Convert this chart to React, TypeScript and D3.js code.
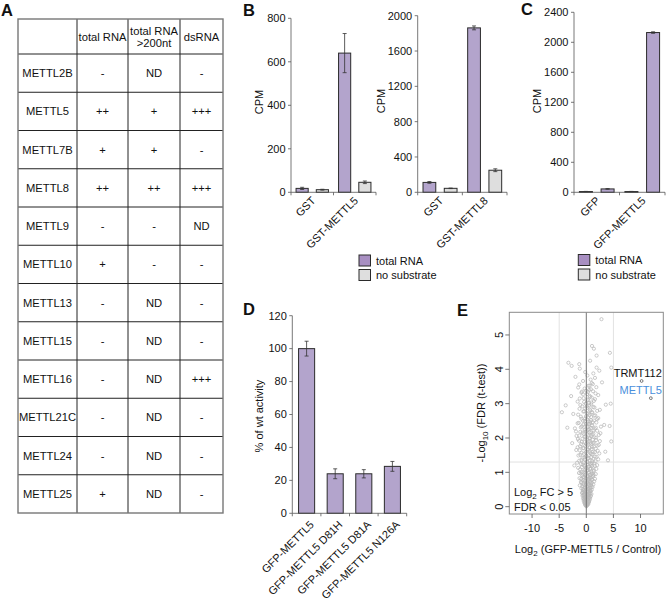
import React from 'react';
import * as d3 from 'd3';

const FONT = '"Liberation Sans", Arial, Helvetica, sans-serif';
const PURPLE = '#b3a4cc';
const PURPLE_LEGEND = '#a88fc2';
const GRAY = '#dedede';
const STROKE = '#2b2b2b';
const AXIS = '#555';

// ---------- Panel A: table ----------
const TABLE_COLUMNS = ['total RNA', 'total RNA\n>200nt', 'dsRNA'];
const TABLE_GENES = ['METTL2B', 'METTL5', 'METTL7B', 'METTL8', 'METTL9', 'METTL10', 'METTL13', 'METTL15', 'METTL16', 'METTL21C', 'METTL24', 'METTL25'];
const TABLE_TOTAL_RNA = ['-', '++', '+', '++', '-', '+', '-', '-', '-', '-', '-', '+'];
const TABLE_TOTAL_RNA_200 = ['ND', '+', '+', '++', '-', '-', 'ND', 'ND', 'ND', 'ND', 'ND', 'ND'];
const TABLE_DSRNA = ['-', '+++', '-', '+++', 'ND', '-', '-', '-', '+++', '-', '-', '-'];

// ---------- Panel B ----------
const SERIES_NAMES = ['total RNA', 'no substrate'];
const B1_CATEGORIES = ['GST', 'GST-METTL5'];
const B1_TOTAL = [18, 640];
const B1_TOTAL_ERR = [5, 90];
const B1_NOSUB = [12, 46];
const B1_NOSUB_ERR = [2, 6];
const B1_TICKS = [0, 200, 400, 600, 800];

const B2_CATEGORIES = ['GST', 'GST-METTL8'];
const B2_TOTAL = [112, 1862];
const B2_TOTAL_ERR = [10, 22];
const B2_NOSUB = [45, 250];
const B2_NOSUB_ERR = [3, 16];
const B2_TICKS = [0, 400, 800, 1200, 1600, 2000];

// ---------- Panel C ----------
const C_CATEGORIES = ['GFP', 'GFP-METTL5'];
const C_NOSUB = [10, 10];
const C_NOSUB_ERR = [2, 2];
const C_TOTAL = [45, 2130];
const C_TOTAL_ERR = [4, 10];
const C_TICKS = [0, 400, 800, 1200, 1600, 2000, 2400];

// ---------- Panel D ----------
const D_CATEGORIES = ['GFP-METTL5', 'GFP-METTL5 D81H', 'GFP-METTL5 D81A', 'GFP-METTL5 N126A'];
const D_VALUES = [100, 24, 24, 28.5];
const D_ERR = [4.5, 3, 2.5, 3];
const D_TICKS = [0, 20, 40, 60, 80, 100, 120];

// ---------- Panel E ----------
const E_X_TICKS = [-10, -5, 0, 5, 10];
const E_Y_TICKS = [0, 1, 2, 3, 4, 5];
const E_FC_LINES = [-5, 5];
const E_FDR_LINE = 1.3;
const E_POINTS: [number, number][] = [
  [0.00, 0.01], [0.05, 0.03], [-0.05, 0.04], [0.12, 0.06], [-0.10, 0.08], [0.20, 0.09], [-0.18, 0.11], [0.02, 0.12],
  [0.28, 0.13], [-0.25, 0.15], [0.10, 0.16], [-0.08, 0.18], [0.35, 0.19], [-0.32, 0.20], [0.18, 0.22], [0.00, 0.23],
  [-0.20, 0.25], [0.42, 0.26], [-0.38, 0.27], [0.26, 0.29], [0.08, 0.30], [-0.12, 0.31], [0.50, 0.33], [-0.45, 0.34],
  [0.33, 0.35], [-0.28, 0.37], [0.15, 0.38], [-0.02, 0.39], [0.58, 0.40], [-0.50, 0.41], [0.40, 0.43], [-0.35, 0.44],
  [0.22, 0.45], [-0.15, 0.46], [0.65, 0.47], [-0.58, 0.48], [0.48, 0.50], [0.05, 0.50], [0.30, 0.07], [-0.30, 0.10],
  [0.45, 0.16], [-0.42, 0.22], [0.60, 0.28], [-0.55, 0.33], [0.72, 0.38], [-0.65, 0.42], [0.80, 0.46],
  [-0.62, 0.52], [0.30, 0.53], [0.75, 0.55], [-0.30, 0.56], [0.12, 0.58], [-0.70, 0.60], [0.55, 0.61], [0.90, 0.63],
  [-0.45, 0.64], [-0.05, 0.66], [0.38, 0.67], [1.00, 0.69], [-0.85, 0.70], [0.20, 0.72], [0.70, 0.73], [-0.20, 0.75],
  [-0.60, 0.77], [1.10, 0.78], [0.45, 0.80], [-0.95, 0.81], [0.05, 0.83], [0.85, 0.84], [-0.40, 0.86], [1.25, 0.88],
  [0.28, 0.89], [-0.75, 0.91], [0.62, 0.92], [-0.10, 0.94], [1.05, 0.96], [-1.05, 0.97], [0.40, 0.99], [0.95, 0.57],
  [-0.15, 0.62], [0.60, 0.82], [1.35, 0.93], [-0.30, 0.97],
  [-0.55, 1.00], [0.95, 1.02], [0.15, 1.04], [1.40, 1.05], [-0.30, 1.07], [-1.15, 1.09], [0.70, 1.10], [0.00, 1.12],
  [1.20, 1.14], [-0.80, 1.15], [0.50, 1.17], [1.55, 1.19], [-0.15, 1.20], [0.30, 1.22], [-1.00, 1.24], [0.85, 1.25],
  [1.05, 1.27], [-0.50, 1.29], [0.10, 1.30], [1.70, 1.32], [-1.30, 1.34], [0.60, 1.35], [-0.25, 1.37], [1.30, 1.39],
  [0.25, 1.40], [-0.70, 1.42], [0.90, 1.44], [1.90, 1.45], [-0.05, 1.47], [-1.45, 1.49], [4.00, 1.35], [-2.20, 1.20],
  [0.45, 1.50], [1.15, 1.52], [-0.40, 1.54], [0.75, 1.56], [-0.90, 1.57], [1.60, 1.59], [0.05, 1.61], [2.10, 1.63],
  [-1.20, 1.64], [0.35, 1.66], [1.00, 1.68], [-0.60, 1.70], [0.60, 1.72], [-1.60, 1.73], [1.40, 1.75], [-0.20, 1.77],
  [0.20, 1.79], [2.30, 1.80], [-0.95, 1.82], [0.90, 1.84], [1.25, 1.86], [-0.35, 1.88], [0.50, 1.90], [-1.35, 1.92],
  [1.80, 1.94], [0.10, 1.96], [-0.70, 1.98], [3.50, 1.60], [4.60, 1.90], [-2.60, 1.85],
  [0.70, 2.00], [1.50, 2.02], [-0.15, 2.04], [-1.80, 2.06], [0.35, 2.08], [1.10, 2.10], [-0.50, 2.12], [2.60, 2.14],
  [0.90, 2.16], [-1.10, 2.18], [0.00, 2.20], [1.35, 2.22], [-0.30, 2.24], [0.55, 2.26], [-2.10, 2.28], [1.75, 2.30],
  [0.25, 2.32], [-0.80, 2.34], [1.00, 2.36], [3.30, 2.38], [-0.05, 2.40], [0.65, 2.42], [-1.40, 2.44], [1.20, 2.46],
  [0.40, 2.48], [4.30, 2.35], [-3.50, 2.30],
  [-0.60, 2.50], [0.85, 2.52], [2.00, 2.55], [-0.20, 2.57], [0.30, 2.60], [-1.00, 2.62], [1.45, 2.65], [0.60, 2.67],
  [-2.40, 2.70], [0.10, 2.72], [1.10, 2.75], [-0.40, 2.78], [0.75, 2.80], [2.50, 2.82], [-1.25, 2.85], [0.20, 2.88],
  [1.30, 2.90], [-0.75, 2.92], [0.50, 2.95], [3.60, 2.97], [-4.50, 2.75], [-3.80, 2.95], [4.50, 3.00],
  [-0.10, 3.00], [0.95, 3.03], [-1.60, 3.06], [0.35, 3.10], [1.60, 3.13], [-0.50, 3.16], [0.70, 3.20], [-2.80, 3.22],
  [2.20, 3.25], [0.15, 3.28], [-0.90, 3.32], [1.25, 3.36], [0.55, 3.40], [-0.30, 3.44], [1.85, 3.48], [-0.80, 3.35],
  [0.40, 3.52], [-1.30, 3.56], [1.00, 3.60], [2.90, 3.62], [-0.60, 3.66], [0.80, 3.70], [1.60, 3.75], [-2.00, 3.78],
  [0.20, 3.82], [1.30, 3.88], [-0.20, 3.92], [2.40, 3.96],
  [-1.20, 4.02], [1.90, 4.05], [4.60, 4.05], [-2.70, 4.10], [-1.30, 4.15], [-3.30, 4.19], [0.70, 4.25], [1.90, 4.40],
  [4.35, 4.48], [1.40, 4.60], [1.05, 4.68], [2.80, 5.46],
];
const E_POINTS_CORE: [number, number][] = [
  [0.15, 0.04], [-0.22, 0.05], [0.38, 0.08], [-0.35, 0.12], [0.52, 0.14], [-0.48, 0.17], [0.62, 0.20], [0.05, 0.21],
  [-0.60, 0.24], [0.70, 0.25], [0.30, 0.27], [-0.10, 0.28], [0.85, 0.31], [-0.70, 0.32], [0.18, 0.34], [-0.40, 0.36],
  [0.95, 0.37], [0.55, 0.39], [-0.80, 0.40], [-0.20, 0.42], [0.10, 0.44], [0.75, 0.45], [-0.50, 0.47], [1.00, 0.49],
  [0.35, 0.51], [-0.90, 0.53], [0.62, 0.54], [-0.10, 0.55], [1.15, 0.57], [0.20, 0.59],
  [-1.20, 0.62], [0.45, 0.64], [1.30, 0.65], [-0.55, 0.67], [0.80, 0.68], [0.10, 0.70], [-1.00, 0.72], [1.45, 0.74],
  [0.35, 0.76], [-0.35, 0.78], [0.95, 0.79], [1.60, 0.81], [-1.25, 0.83], [0.55, 0.85], [-0.60, 0.87], [0.15, 0.88],
  [1.20, 0.90], [-0.20, 0.92], [0.80, 0.94], [1.75, 0.95], [-1.35, 0.98], [0.50, 1.00], [-0.85, 1.01], [1.30, 1.03],
  [0.25, 1.06], [-0.10, 1.08], [1.85, 1.10], [0.80, 1.12], [-1.50, 1.13], [0.40, 1.16], [1.00, 1.18], [-0.40, 1.19],
  [2.00, 1.21], [-0.65, 1.23], [0.65, 1.24], [1.45, 1.26], [-1.70, 1.28], [0.20, 1.31], [1.10, 1.33], [-0.90, 1.36],
  [2.20, 1.38], [0.45, 1.41], [-0.35, 1.43], [1.60, 1.46], [0.05, 1.48], [-1.10, 1.51], [0.95, 1.53], [2.40, 1.55],
  [-0.15, 1.58], [1.30, 1.60], [0.60, 1.62], [-1.85, 1.65], [0.25, 1.67], [1.75, 1.69], [-0.50, 1.71], [1.05, 1.74],
  [-1.15, 1.76], [2.05, 1.78], [0.40, 1.81], [-0.05, 1.83], [1.50, 1.85], [0.75, 1.87], [-0.80, 1.89], [2.50, 1.91],
  [0.15, 1.93], [1.20, 1.95], [-1.55, 1.97], [0.55, 1.99],
  [1.80, 2.01], [-0.35, 2.03], [0.90, 2.05], [-1.30, 2.07], [2.30, 2.09], [0.15, 2.11], [1.30, 2.13], [-0.70, 2.15],
  [0.60, 2.17], [-1.90, 2.19], [2.00, 2.21], [0.30, 2.23], [-0.15, 2.25], [1.55, 2.27], [0.85, 2.29], [-1.00, 2.31],
  [2.70, 2.33], [0.05, 2.35], [1.10, 2.37], [-0.55, 2.39], [0.45, 2.41], [-1.60, 2.43], [1.85, 2.45], [0.70, 2.47],
  [-0.25, 2.49], [1.40, 2.51], [0.15, 2.54], [-0.90, 2.56], [2.20, 2.58], [0.90, 2.61], [-0.05, 2.63], [1.65, 2.66],
  [-1.50, 2.68], [0.40, 2.71], [1.00, 2.74], [-0.55, 2.77], [2.00, 2.79], [0.65, 2.83], [-0.20, 2.86], [1.50, 2.89],
  [0.10, 2.93], [-1.10, 2.96], [0.90, 2.98],
  [0.50, 3.02], [-0.40, 3.05], [1.40, 3.08], [0.20, 3.12], [-1.20, 3.15], [1.00, 3.18], [0.60, 3.23], [-0.60, 3.27],
  [1.70, 3.30], [0.30, 3.34], [-0.05, 3.38], [0.85, 3.42], [-1.50, 3.47], [0.60, 3.52], [1.20, 3.57],
];
const E_HIGHLIGHTS = [
  { name: 'TRMT112', x: 10.2, y: 3.66, color: '#111111' },
  { name: 'METTL5', x: 11.9, y: 3.16, color: '#4a8fdc' },
];

type Series = { name: string; values: number[]; errors: number[]; fill: string };

function BarChart(props: {
  x0: number; x1: number; yTop: number; yBottom: number; yMax: number; ticks: number[];
  categories: string[]; series: Series[]; padInner: number; padOuter: number;
  yLabel: string; yLabelX: number; yLabelY: number; labelDx: number; labelDy: number;
}) {
  const { x0, x1, yTop, yBottom, yMax, ticks, categories, series, padInner, padOuter } = props;
  const x = d3.scaleBand<string>().domain(categories).range([x0, x1]).padding(0);
  const inner = d3.scaleBand<number>().domain(series.map((_, i) => i)).range([0, x.bandwidth()])
    .paddingInner(padInner).paddingOuter(padOuter);
  const y = d3.scaleLinear().domain([0, yMax]).range([yBottom, yTop]);
  const bounds = d3.range(categories.length + 1).map((i) => x0 + i * x.step());
  return (
    <g>
      {series.map((s, si) =>
        categories.map((c, ci) => {
          const bx = (x(c) as number) + (inner(si) as number);
          const bw = inner.bandwidth();
          const v = s.values[ci];
          const e = s.errors[ci];
          const cx = bx + bw / 2;
          return (
            <g key={`${si}-${ci}`}>
              <rect x={bx} y={y(v)} width={bw} height={yBottom - y(v)} fill={s.fill} stroke={STROKE} strokeWidth={1} />
              <line x1={cx} x2={cx} y1={y(v + e)} y2={y(Math.max(0, v - e))} stroke="#333" strokeWidth={0.8} />
              <line x1={cx - 2} x2={cx + 2} y1={y(v + e)} y2={y(v + e)} stroke="#333" strokeWidth={0.8} />
              <line x1={cx - 2} x2={cx + 2} y1={y(Math.max(0, v - e))} y2={y(Math.max(0, v - e))} stroke="#333" strokeWidth={0.8} />
            </g>
          );
        })
      )}
      <line x1={x0} x2={x0} y1={yTop} y2={yBottom} stroke={AXIS} strokeWidth={0.8} />
      {ticks.map((t) => (
        <g key={t}>
          <line x1={x0 - 3} x2={x0} y1={y(t)} y2={y(t)} stroke={AXIS} strokeWidth={0.8} />
          <text x={x0 - 5.5} y={y(t)} dy="0.35em" textAnchor="end" fontSize={11}>{t}</text>
        </g>
      ))}
      <line x1={x0} x2={x1} y1={yBottom} y2={yBottom} stroke={AXIS} strokeWidth={0.8} />
      {bounds.map((b, i) => (
        <line key={i} x1={b} x2={b} y1={yBottom} y2={yBottom + 3} stroke={AXIS} strokeWidth={0.8} />
      ))}
      {categories.map((c) => {
        const cx = (x(c) as number) + x.bandwidth() / 2;
        return (
          <text key={c} transform={`translate(${cx + props.labelDx},${yBottom + props.labelDy}) rotate(-45)`}
            textAnchor="end" fontSize={11}>{c}</text>
        );
      })}
      <text transform={`translate(${props.yLabelX},${props.yLabelY}) rotate(-90)`} textAnchor="middle"
        dy="0.35em" fontSize={11}>{props.yLabel}</text>
    </g>
  );
}

function Legend({ x, y }: { x: number; y: number }) {
  const fills = [PURPLE_LEGEND, GRAY];
  return (
    <g>
      {SERIES_NAMES.map((n, i) => (
        <g key={n}>
          <rect x={x} y={y + i * 14.5} width={11.5} height={11} fill={fills[i]} stroke={STROKE} strokeWidth={1} />
          <text x={x + 17} y={y + i * 14.5 + 9.5} fontSize={11}>{n}</text>
        </g>
      ))}
    </g>
  );
}

function Table() {
  const cols = [18, 77, 128, 180, 223];
  const top = 19;
  const headBottom = 54;
  const rowH = (513 - headBottom) / TABLE_GENES.length;
  const bottom = headBottom + rowH * TABLE_GENES.length;
  const colData = [TABLE_TOTAL_RNA, TABLE_TOTAL_RNA_200, TABLE_DSRNA];
  return (
    <g fontSize={11.2}>
      {cols.slice(1, -1).map((c) => (
        <line key={c} x1={c} x2={c} y1={top} y2={bottom} stroke="#222" strokeWidth={1} />
      ))}
      {TABLE_GENES.map((_, i) => (
        <line key={i} x1={cols[0]} x2={cols[4]} y1={headBottom + i * rowH} y2={headBottom + i * rowH} stroke="#222" strokeWidth={1} />
      ))}
      <rect x={cols[0]} y={top} width={cols[4] - cols[0]} height={bottom - top} fill="none" stroke="#777" strokeWidth={1.4} />
      {TABLE_COLUMNS.map((h, i) => {
        const cx = (cols[i + 1] + cols[i + 2]) / 2;
        const lines = h.split('\n');
        return lines.map((l, li) => (
          <text key={`${i}-${li}`} x={cx} y={lines.length === 1 ? 40.5 : 35 + li * 11.5} textAnchor="middle">{l}</text>
        ));
      })}
      {TABLE_GENES.map((g, i) => {
        const cy = headBottom + (i + 0.5) * rowH;
        return (
          <g key={g}>
            <text x={(cols[0] + cols[1]) / 2} y={cy} dy="0.35em" textAnchor="middle">{g}</text>
            {colData.map((d, j) => (
              <text key={j} x={(cols[j + 1] + cols[j + 2]) / 2} y={cy} dy="0.35em" textAnchor="middle">{d[i]}</text>
            ))}
          </g>
        );
      })}
    </g>
  );
}

function Volcano() {
  const left = 509.3, right = 663.3, top = 312.3, bottom = 514;
  const x = d3.scaleLinear().domain([-14.2, 14.2]).range([left, right]);
  const y = d3.scaleLinear().domain([-0.213, 5.66]).range([bottom, top]);
  const pts = E_POINTS.concat(E_POINTS_CORE);
  return (
    <g>
      {E_FC_LINES.map((v) => (
        <line key={v} x1={x(v)} x2={x(v)} y1={top} y2={bottom} stroke="#e2e2e2" strokeWidth={1} />
      ))}
      <line x1={left} x2={right} y1={y(E_FDR_LINE)} y2={y(E_FDR_LINE)} stroke="#e2e2e2" strokeWidth={1} />
      {pts.map((p, i) => (
        <circle key={i} cx={x(p[0])} cy={y(p[1])} r={1.6} fill="none" stroke="#b8b8b8" strokeWidth={0.75} />
      ))}
      <line x1={x(0)} x2={x(0)} y1={top} y2={bottom} stroke="#666" strokeWidth={0.9} />
      {E_HIGHLIGHTS.map((h) => (
        <g key={h.name}>
          <circle cx={x(h.x)} cy={y(h.y)} r={1.4} fill="none" stroke="#444" strokeWidth={0.7} />
          <text x={right - 1.5} y={y(h.y) - 4} textAnchor="end" fontSize={11} fill={h.color}>{h.name}</text>
        </g>
      ))}
      <rect x={left} y={top} width={right - left} height={bottom - top} fill="none" stroke="#8a8a8a" strokeWidth={1} />
      {E_X_TICKS.map((t) => (
        <g key={t}>
          <line x1={x(t)} x2={x(t)} y1={bottom} y2={bottom + 4} stroke="#555" strokeWidth={0.8} />
          <text x={x(t)} y={bottom + 18} textAnchor="middle" fontSize={11}>{t}</text>
        </g>
      ))}
      {E_Y_TICKS.map((t) => (
        <g key={t}>
          <line x1={left - 4} x2={left} y1={y(t)} y2={y(t)} stroke="#555" strokeWidth={0.8} />
          <text transform={`translate(${left - 6.5},${y(t)}) rotate(-90)`} textAnchor="middle" fontSize={11}>{t}</text>
        </g>
      ))}
      <text x={514} y={496} fontSize={11}>
        Log<tspan dy={3} fontSize={8}>2</tspan><tspan dy={-3}> FC &gt; 5</tspan>
      </text>
      <text x={514} y={511} fontSize={11}>FDR &lt; 0.05</text>
      <text x={588} y={553} textAnchor="middle" fontSize={11}>
        Log<tspan dy={3} fontSize={8}>2</tspan><tspan dy={-3}> (GFP-METTL5 / Control)</tspan>
      </text>
      <text transform={`translate(485,413) rotate(-90)`} textAnchor="middle" fontSize={11}>
        -Log<tspan dy={3} fontSize={8}>10</tspan><tspan dy={-3}> (FDR (t-test))</tspan>
      </text>
    </g>
  );
}

export default function App() {
  const b1: Series[] = [
    { name: SERIES_NAMES[0], values: B1_TOTAL, errors: B1_TOTAL_ERR, fill: PURPLE },
    { name: SERIES_NAMES[1], values: B1_NOSUB, errors: B1_NOSUB_ERR, fill: GRAY },
  ];
  const b2: Series[] = [
    { name: SERIES_NAMES[0], values: B2_TOTAL, errors: B2_TOTAL_ERR, fill: PURPLE },
    { name: SERIES_NAMES[1], values: B2_NOSUB, errors: B2_NOSUB_ERR, fill: GRAY },
  ];
  const c: Series[] = [
    { name: SERIES_NAMES[1], values: C_NOSUB, errors: C_NOSUB_ERR, fill: GRAY },
    { name: SERIES_NAMES[0], values: C_TOTAL, errors: C_TOTAL_ERR, fill: PURPLE },
  ];
  const d: Series[] = [{ name: 'activity', values: D_VALUES, errors: D_ERR, fill: PURPLE }];
  return (
    <svg width={671} height={601} style={{ position: 'absolute', left: 0, top: 0, background: '#fff' }}
      fontFamily={FONT} fill="#111">
      <rect x={0} y={0} width={671} height={601} fill="#fff" />
      <g fontWeight="bold" fontSize={16.5}>
        <text x={1} y={16}>A</text>
        <text x={243} y={16}>B</text>
        <text x={521} y={15}>C</text>
        <text x={243} y={315}>D</text>
        <text x={457} y={316}>E</text>
      </g>
      <Table />
      <BarChart x0={291} x1={376} yTop={18.3} yBottom={192.3} yMax={800} ticks={B1_TICKS}
        categories={B1_CATEGORIES} series={b1} padInner={0.4} padOuter={0.25}
        yLabel="CPM" yLabelX={259} yLabelY={102} labelDx={4} labelDy={9} />
      <BarChart x0={417.7} x1={507} yTop={15.7} yBottom={192.3} yMax={2000} ticks={B2_TICKS}
        categories={B2_CATEGORIES} series={b2} padInner={0.4} padOuter={0.25}
        yLabel="CPM" yLabelX={381} yLabelY={101} labelDx={4} labelDy={9} />
      <Legend x={359} y={255} />
      <BarChart x0={574} x1={665} yTop={12.3} yBottom={192.3} yMax={2400} ticks={C_TICKS}
        categories={C_CATEGORIES} series={c} padInner={0.4} padOuter={0.25}
        yLabel="CPM" yLabelX={537} yLabelY={101} labelDx={4} labelDy={9} />
      <Legend x={578.3} y={254.5} />
      <BarChart x0={292.3} x1={406.7} yTop={315.7} yBottom={513.3} yMax={120} ticks={D_TICKS}
        categories={D_CATEGORIES} series={d} padInner={0} padOuter={0.39}
        yLabel="% of wt activity" yLabelX={259} yLabelY={416} labelDx={8} labelDy={12} />
      <Volcano />
    </svg>
  );
}
